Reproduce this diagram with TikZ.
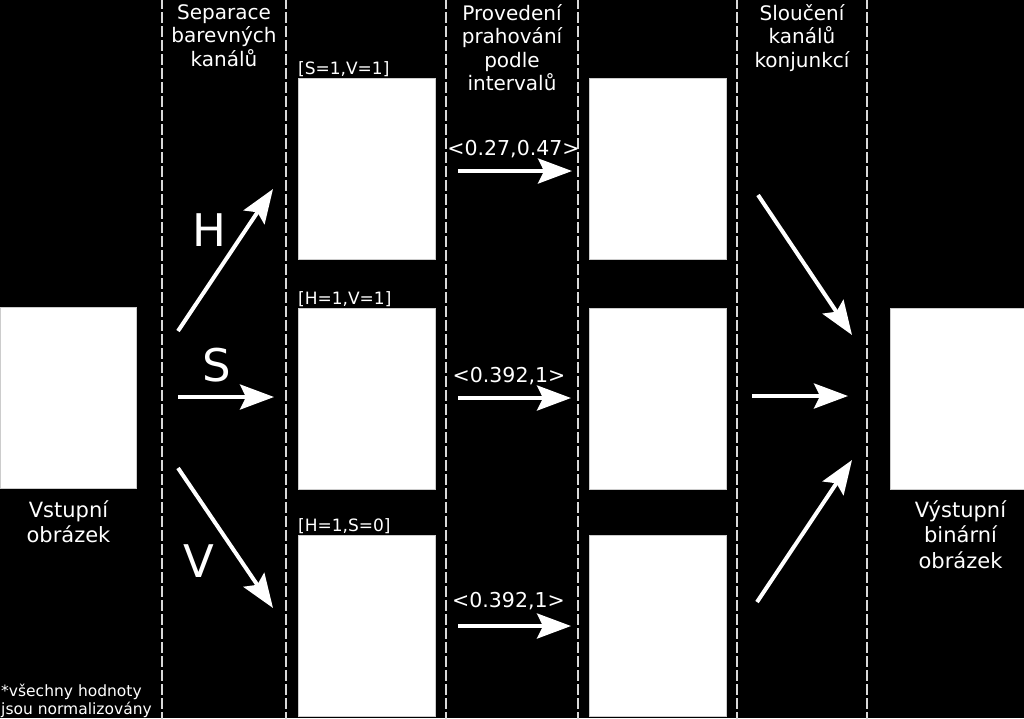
\documentclass[tikz,border=0pt]{standalone}
\usepackage{fontspec}
\setmainfont{DejaVu Sans}
\usetikzlibrary{positioning,arrows.meta}

\tikzset{
  img/.style={draw=gray!40, fill=white, line width=1pt, minimum width=137pt, minimum height=181pt, inner sep=0, anchor=north west},
  arr/.style={draw=white, line width=4pt, -{Stealth[length=34pt,width=25pt,inset=6pt]}},
  sep/.style={draw=white!85!black, line width=1.5pt, dash pattern=on 11pt off 3pt},
  hdr/.style={text=white, inner sep=0, anchor=north, align=center, font=\fontsize{20}{23.5}\selectfont},
  imglbl/.style={text=white, inner sep=0, anchor=north, align=center, font=\fontsize{21}{25.5}\selectfont},
  tag/.style={text=white, inner sep=0, anchor=base west, font=\fontsize{17}{20}\selectfont},
  ival/.style={text=white, inner sep=0, anchor=base, font=\fontsize{20.5}{24}\selectfont},
  chan/.style={text=white, inner sep=0, font=\fontsize{45}{50}\selectfont}
}

\begin{document}
\begin{tikzpicture}[x=1pt,y=-1pt]
\fill[black] (0,0) rectangle (1024,718);
\useasboundingbox (0,0) rectangle (1024,718);

% column borders
\foreach \x in {162,286,446,578,737,867}
  \draw[sep] (\x,-2) -- (\x,720);

% headings
\node[hdr] (hsep) at (224,4) {Separace\\barevných\\kanálů};
\node[hdr] (hthr) at (512,4) {Provedení\\prahování\\podle\\intervalů};
\node[hdr] (hand) at (802,4) {Sloučení\\kanálů\\konjunkcí};

% images
\node[img, minimum width=136pt] (in) at (0,307) {};
\node[img] (chH) at (298,78) {};
\node[img, below=48pt of chH] (chS) {};
\node[img, below=45pt of chS] (chV) {};
\node[img, right=153pt of chH] (thH) {};
\node[img, right=153pt of chS] (thS) {};
\node[img, right=153pt of chV] (thV) {};
\node[img, minimum width=140pt, right=163pt of thS] (out) {};

\node[imglbl, below=11pt of in] (inlbl) {Vstupní\\obrázek};
\node[imglbl, below=10pt of out] (outlbl) {Výstupní\\binární\\obrázek};

\node[tag] (tagH) at ([yshift=4pt]chH.north west) {[S=1,V=1]};
\node[tag] (tagS) at ([yshift=4pt]chS.north west) {[H=1,V=1]};
\node[tag] (tagV) at ([yshift=4pt]chV.north west) {[H=1,S=0]};

\node[text=white, inner sep=0, anchor=north west, align=left, font=\fontsize{15.5}{18}\selectfont] (note) at (1,684) {*všechny hodnoty\\jsou normalizovány};

% separation
\coordinate (sH0) at (178,331);
\coordinate (sH1) at (273,189);
\coordinate (sS0) at (178,397);
\coordinate (sS1) at (274,397);
\coordinate (sV0) at (178,468);
\coordinate (sV1) at (273,608);
\draw[arr] (sH0) -- (sH1);
\draw[arr] (sS0) -- (sS1);
\draw[arr] (sV0) -- (sV1);
\node[chan] (lH) at (209,230) {H};
\node[chan] (lS) at (217,365) {S};
\node[chan] (lV) at (199,561) {V};

% thresholds
\coordinate (tH0) at (458,171);
\coordinate (tH1) at (572,171);
\coordinate (tS0) at (458,398);
\coordinate (tS1) at (571,398);
\coordinate (tV0) at (458,626);
\coordinate (tV1) at (571,626);
\draw[arr] (tH0) -- (tH1);
\draw[arr] (tS0) -- (tS1);
\draw[arr] (tV0) -- (tV1);
\node[ival] (iH) at (513.5,155) {<0.27,0.47>};
\node[ival] (iS) at (509,382) {<0.392,1>};
\node[ival] (iV) at (508.5,607) {<0.392,1>};

% merge
\coordinate (mH0) at (758,195);
\coordinate (mH1) at (852,335);
\coordinate (mS0) at (752,396);
\coordinate (mS1) at (848,396);
\coordinate (mV0) at (757,602);
\coordinate (mV1) at (852,460);
\draw[arr] (mH0) -- (mH1);
\draw[arr] (mS0) -- (mS1);
\draw[arr] (mV0) -- (mV1);
\end{tikzpicture}
\end{document}
